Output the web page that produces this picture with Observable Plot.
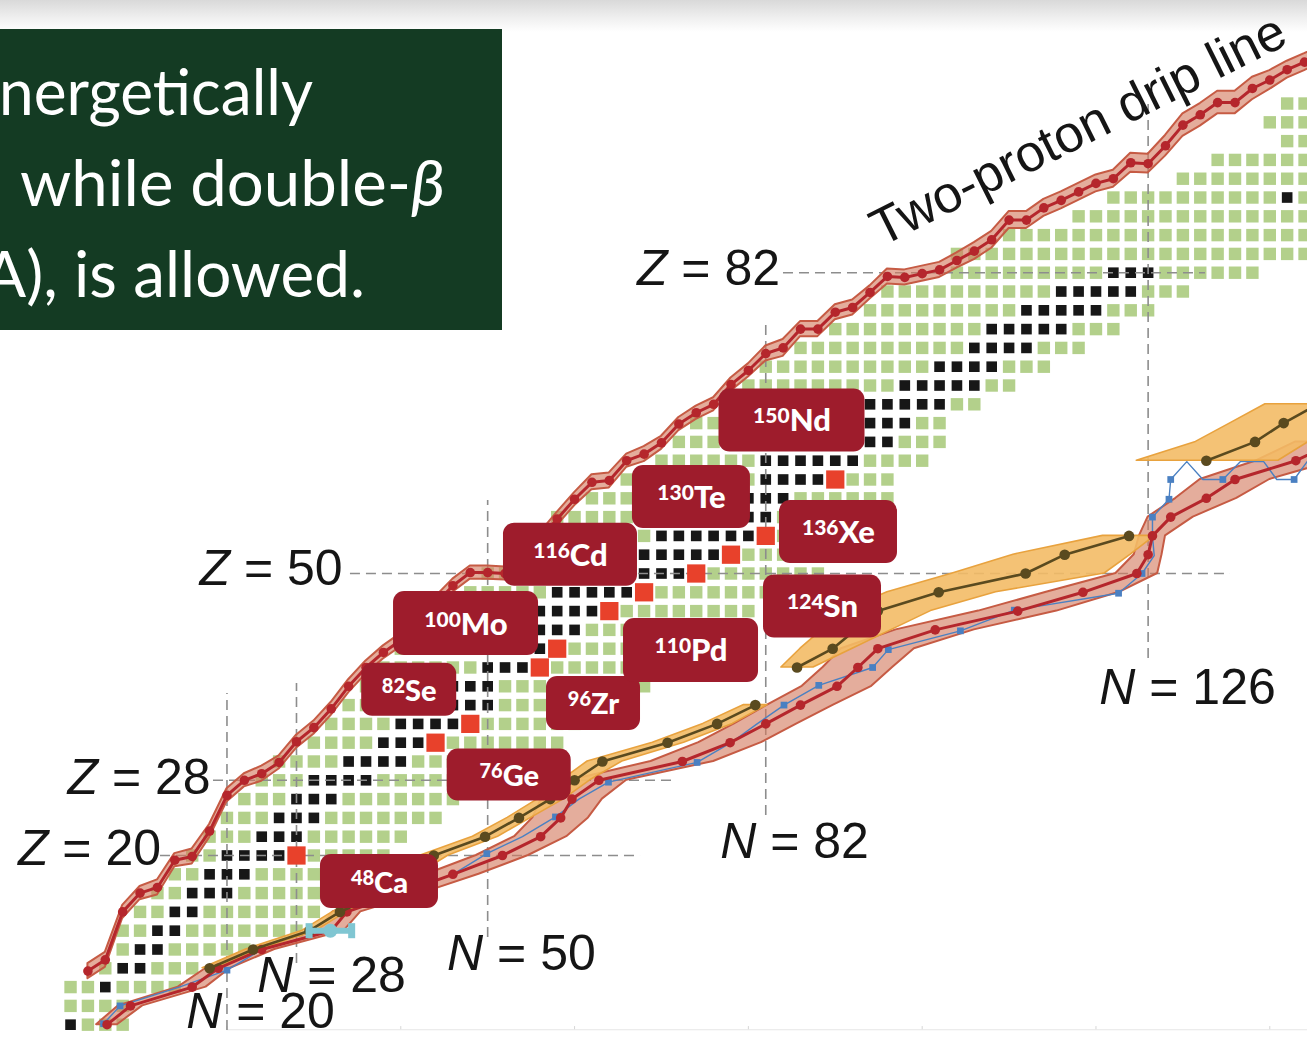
<!DOCTYPE html>
<html>
<head>
<meta charset="utf-8">
<script src="https://cdn.jsdelivr.net/npm/d3@7"></script>
<script src="https://cdn.jsdelivr.net/npm/@observablehq/plot@0.6"></script>
<style>
  html, body { margin: 0; padding: 0; background: #fff; overflow: hidden; }
  #wrap { position: relative; width: 1307px; height: 1038px; overflow: hidden; background: #fff; }
  #shade { position: absolute; left: 0; top: 0; width: 1307px; height: 32px;
           background: linear-gradient(to bottom, #d9d9d9 0%, #efefef 55%, #ffffff 100%); }
  #chart { position: absolute; left: 0; top: 0; }
  #note { position: absolute; left: 0; top: 29px; width: 502px; height: 301px; background: #143b23; overflow: hidden; }
</style>
</head>
<body>
<div id="wrap">
  <div id="shade"></div>
  <div id="chart"></div>
  <div id="note">
    <svg width="502" height="301">
      <g fill="#ffffff" font-family="Lato, 'Open Sans', sans-serif" font-size="63">
        <text x="-1" y="86" textLength="314" lengthAdjust="spacingAndGlyphs">nergetically</text>
        <text x="20" y="177" textLength="425" lengthAdjust="spacingAndGlyphs">while double-<tspan font-style="italic">β</tspan></text>
        <text x="-17" y="268" textLength="382" lengthAdjust="spacingAndGlyphs">A), is allowed.</text>
      </g>
    </svg>
  </div>
</div>
<script>
// ======================= DATA =======================
// Even-even nuclei shown (green): per even Z, first and last even N
const rowZ    = [2,4,6,8,10,12,14,16,18,20,22,24,26,28,30,32,34,36,38,40,42,44,46,48,50,52,54,56,58,60,62,64,66,68,70,72,74,76,78,80,82,84,86,88,90,92,94,96,98,100];
const rowNmin = [2,2,2,6,8,8,10,12,14,16,18,20,22,24,26,30,32,34,36,38,40,42,44,48,50,54,56,58,62,66,70,72,74,78,80,82,86,90,94,96,104,104,110,118,122,130,134,142,140,142];
const rowNmax = [8,8,14,16,22,28,30,32,34,38,40,44,46,48,52,58,60,62,68,70,72,76,80,84,88,86,90,94,96,96,100,102,102,106,110,114,118,122,126,130,138,144,144,144,144,144,144,144,144,144];

// Stable (black) even-even nuclei: Z and their N values
const stableZ = [2,6,8,10,12,14,16,18,20,22,24,26,28,30,32,34,36,38,40,42,44,46,48,50,52,54,56,58,60,62,64,66,68,70,72,74,76,78,80,82,90];
const stableN = [[2],[6],[8,10],[10,12],[12,14],[14,16],[16,18,20],[18,20,22],[20,22,24,26],[24,26,28],[26,28,30],[28,30,32],
  [30,32,34,36],[34,36,38,40],[38,40,42],[40,42,44,46],[42,44,46,48,50],[46,48,50],[50,52,54],[50,52,54,56],[52,54,56,58,60],
  [56,58,60,62],[58,60,62,64,66],[62,64,66,68,70,72],[68,70,72,74,76],[70,72,74,76,78,80],[74,76,78,80,82],[78,80,82,84],
  [82,84,86,88],[82,84,86,88,90,92],[88,90,92,94,96],[90,92,94,96,98],[94,96,98,100,102],[98,100,102,104,106],[102,104,106,108],
  [106,108,110,112],[108,110,112,114,116],[112,114,116,118,120],[116,118,120,122,124],[122,124,126],[142]];

// Double-beta decay candidates (red squares + labels)
const bbZ    = [20,32,34,40,42,46,48,50,52,54,60];
const bbN    = [28,44,48,56,58,64,68,74,78,82,90];
const bbMass = [48,76,82,96,100,110,116,124,130,136,150];
const bbSym  = ["Ca","Ge","Se","Zr","Mo","Pd","Cd","Sn","Te","Xe","Nd"];

// Two-proton drip line (per even N: Z and band half-width)
const pN  = [4,6,8,10,12,14,16,18,20,22,24,26,28,30,32,34,36,38,40,42,44,46,48,50,52,54,56,58,60,62,64,66,68,70,72,74,76,78,80,82,84,86,88,90,92,94,96,98,100,102,104,106,108,110,112,114,116,118,120,122,124,126,128,130,132,134,136,138,140,142,144,146];
const pZ  = [7.7,8.9,14.0,16.0,16.6,19.5,19.9,22.6,26.4,28.0,28.7,29.9,32.1,33.6,35.6,38.0,40.0,41.6,42.9,44.6,46.8,48.7,50.1,50.1,50.0,51.6,53.6,55.8,57.9,59.7,59.9,62.0,62.7,63.9,65.9,67.1,68.0,70.1,71.6,73.4,74.0,76.0,76.0,77.8,78.3,79.9,81.6,81.5,81.9,82.3,83.3,84.3,85.5,87.6,87.6,88.9,89.7,90.6,91.5,92.0,93.7,93.6,95.5,97.7,98.8,100.1,100.1,101.6,102.5,103.6,104.4,105.3];
const pHw = [0.8,0.8,0.7,0.7,0.8,0.7,0.8,0.7,0.7,0.7,0.8,0.7,0.7,0.7,0.7,0.7,0.7,0.7,0.7,0.7,0.7,0.7,0.7,0.7,0.7,0.7,0.7,0.7,0.7,0.8,0.8,0.7,0.8,0.7,0.7,0.7,0.7,0.7,0.7,0.8,0.9,0.8,0.8,0.8,0.8,0.7,0.8,0.8,0.8,0.8,0.8,0.9,0.9,0.9,0.9,0.9,0.9,0.9,0.9,0.9,1.0,1.0,1.1,1.2,1.2,1.2,1.2,1.2,1.0,0.9,0.9,0.9];

// Two-neutron drip line (per even Z: N and band half-width in N)
const nZ  = [2,4,6,8,10,12,14,16,18,20,22,24,26,28,30,32,34,36,38,40,42,44,46,48,50,52,54,56,58,60,62,64];
const nN  = [6.2,8.9,16.0,19.0,24.0,32.0,33.8,40.0,46.0,51.7,56.1,58.4,59.7,62.8,72.4,77.9,82.0,86.0,90.2,92.6,94.9,101.5,111.0,118.5,124.7,126.0,126.5,128.6,132.7,136.0,143.0,147.5];
const nHw = [1.2,1.4,1.6,1.4,1.5,1.5,1.6,2.5,3.0,3.0,3.0,3.2,3.5,3.2,3.6,3.6,3.6,3.8,4.0,4.0,4.2,4.5,4.5,4.2,2.4,1.6,1.5,2.6,3.5,4.0,4.5,4.5];

// Blue model line (path vertices) and its square markers
const blueN = [5.8,7.7,14.5,20.0,24.0,32.0,33.8,40.0,46.0,49.9,54.0,57.8,60.5,63.9,74.1,78.0,81.0,84.1,88.1,94.3,96.1,104.4,110.6,122.6,125.3,126.7,126.5,126.5,128.4,128.6,130.45,132.3,134.6,136.6,139.3,140.8,142.8,144.3,146.5];
const blueZ = [2.1,4.0,6.0,7.8,10.0,12.0,14.0,16.0,18.0,20.2,22.0,24.1,26.0,27.8,29.9,32.0,34.0,36.0,38.1,40.0,41.9,43.9,46.1,47.9,50.0,51.9,54.0,56.0,57.9,60.0,61.9,60.0,60.0,61.9,61.9,60.0,60.0,61.9,61.9];
const blueMarkN = [5.8,7.7,20.0,49.9,57.8,63.9,74.1,84.1,88.1,94.3,96.1,104.4,110.6,122.6,125.3,126.5,126.5,128.4,128.6,134.6,142.8];
const blueMarkZ = [2.1,4.0,7.8,20.2,24.1,27.8,29.9,36.0,38.1,40.0,41.9,43.9,46.1,47.9,50.0,54.0,56.0,57.9,60.0,60.0,60.0];

// Brown line with orange band (per even Z; null = gap)
const brZ  = [8,10,12,14,16,18,20,22,24,26,28,30,32,34,36,38,40,42,44,46,48,50,52,54,56,58,60,62,64,66,68];
const brN  = [18.0,23.0,29.5,33.0,38.0,41.0,43.8,49.7,53.6,57.2,60.0,63.2,70.7,76.4,80.8,null,85.6,89.7,92.3,94.9,101.9,111.9,116.4,123.8,null,null,null,132.7,138.3,141.6,145.5];
const brLo = [17.2,22.2,28.7,32.2,37.0,40.0,42.3,48.3,52.3,55.8,58.5,61.5,69.0,74.8,79.5,null,83.8,86.0,88.5,91.0,96.0,103.5,110.5,120.8,null,null,null,124.7,131.5,135.5,139.5];
const brHi = [18.8,23.8,30.3,33.8,39.0,42.0,45.5,51.2,55.0,58.8,61.8,65.5,72.6,78.2,82.2,null,87.5,92.0,96.5,101.0,108.5,121.0,124.0,126.8,null,null,null,141.0,144.5,148.0,151.0];

// Cyan point with horizontal error bar
const cyanN = [31.9], cyanZ = [12.0], cyanErr = [2.45];

// Magic numbers (dashed guide lines)
const magicZ     = [20, 28, 50, 82];
const magicZFrom = [12.35, 18.45, 34.21, 84.04];
const magicZTo   = [67.59, 71.84, 135.48, 132.6];
const magicN     = [20, 28, 50, 82, 126];
const magicNFrom = [1.38, 8.51, 11.28, 24.25, 40.96];
const magicNTo   = [37.23, 38.30, 57.77, 76.92, 100.32];

const axisTicks = [20, 40, 60, 80, 100, 120, 140];

// ======================= LAYOUT =======================
const W = 1307, H = 1038;
const xDomain = [-6.06, 144.34], yDomain = [0.53, 110.96];
const PXN = W / (xDomain[1] - xDomain[0]);
const PXZ = H / (yDomain[1] - yDomain[0]);

// label box centres (data units) and box sizes (px)
const labelLayout = {
  Ca: {N: 37.55, Z: 17.23, w: 118, h: 54, fs: 29, ms: 20},
  Ge: {N: 52.48, Z: 28.56, w: 124, h: 52, fs: 29, ms: 20},
  Se: {N: 40.97, Z: 37.63, w: 95,  h: 53, fs: 29, ms: 20},
  Zr: {N: 62.18, Z: 36.17, w: 94,  h: 54, fs: 29, ms: 20},
  Mo: {N: 47.51, Z: 44.68, w: 145, h: 64, fs: 31, ms: 21},
  Pd: {N: 73.40, Z: 41.81, w: 135, h: 64, fs: 31, ms: 21},
  Cd: {N: 59.53, Z: 51.99, w: 134, h: 63, fs: 31, ms: 21},
  Sn: {N: 88.53, Z: 46.49, w: 118, h: 63, fs: 31, ms: 21},
  Te: {N: 73.45, Z: 58.14, w: 118, h: 63, fs: 31, ms: 21},
  Xe: {N: 90.37, Z: 54.41, w: 118, h: 63, fs: 31, ms: 21},
  Nd: {N: 85.02, Z: 66.28, w: 146, h: 63, fs: 31, ms: 21}
};
const magicLabelPos = {
  Z20: [4.18, 20.74], Z28: [9.88, 28.24], Z50: [25.07, 50.53], Z82: [75.41, 82.40],
  N20: [23.86, 3.40], N28: [32.03, 7.23], N50: [53.89, 9.52], N82: [85.31, 21.43], N126: [130.53, 37.77]
};
const dripLabelPos = [117.97, 97.16];

// ======================= TABLES =======================
const key = (z, n) => z + ":" + n;
const stableSet = new Set();
stableZ.forEach((z, i) => stableN[i].forEach(n => stableSet.add(key(z, n))));
const bbSet = new Set(bbZ.map((z, i) => key(z, bbN[i])));
const known = [], stable = [];
rowZ.forEach((z, i) => {
  for (let n = rowNmin[i]; n <= rowNmax[i]; n += 2) {
    const k = key(z, n);
    if (bbSet.has(k)) continue;
    (stableSet.has(k) ? stable : known).push({N: n, Z: z});
  }
});
const bb = bbZ.map((z, i) => ({Z: z, N: bbN[i], mass: bbMass[i], sym: bbSym[i]}));
const labels = bb.map(d => ({...d, ...labelLayout[d.sym]}));

const pRows  = pN.map((n, i) => ({N: n, Z: pZ[i], lo: pZ[i] - pHw[i], hi: pZ[i] + pHw[i]}));
const nRows  = nZ.map((z, i) => ({Z: z, N: nN[i], lo: nN[i] - nHw[i], hi: nN[i] + nHw[i]}));
const brRows = brZ.map((z, i) => ({Z: z, N: brN[i], lo: brLo[i], hi: brHi[i]}));
const blueRows = blueN.map((n, i) => ({N: n, Z: blueZ[i]}));
const blueMarks = blueMarkN.map((n, i) => ({N: n, Z: blueMarkZ[i]}));
const cyan = cyanN.map((n, i) => ({N: n, Z: cyanZ[i], e: cyanErr[i]}));
const cyanCaps = cyan.flatMap(d => [{N: d.N - d.e, Z: d.Z}, {N: d.N + d.e, Z: d.Z}]);

const zLines = magicZ.map((z, i) => ({Z: z, from: magicZFrom[i], to: magicZTo[i]}));
const nLines = magicN.map((n, i) => ({N: n, from: magicNFrom[i], to: magicNTo[i]}));
const magicLabels = [
  ...magicZ.map(z => ({t: `Z = ${z}`, N: magicLabelPos["Z" + z][0], Z: magicLabelPos["Z" + z][1]})),
  ...magicN.map(n => ({t: `N = ${n}`, N: magicLabelPos["N" + n][0], Z: magicLabelPos["N" + n][1]}))
];

// ======================= COLOURS =======================
const GREEN = "#b3d08b", BLACK = "#171717", BBRED = "#e8412b", LABEL = "#9e1c2c";
const DRIP = "#b5262c", BANDF = "#d47a60", BANDS = "#c65b44";
const ORANGEF = "#f3bb66", ORANGES = "#e8a23e", BROWN = "#5a4a1f", BLUE = "#4a80c2", CYAN = "#80c6d2";
const DASH = "#8d8d8d";
const TEXTFONT = "'Liberation Sans', Arial, Helvetica, sans-serif";

// ======================= PLOT =======================
const plot = Plot.plot({
  width: W, height: H, margin: 0,
  style: {background: "transparent"},
  x: {domain: xDomain, axis: null},
  y: {domain: yDomain, axis: null},
  marks: [
    // faint bottom axis
    Plot.ruleY([1.46], {x1: 20, x2: 150, stroke: "#e6e6e6", strokeWidth: 1}),
    Plot.ruleX(axisTicks, {y1: 1.46, y2: 1.8, stroke: "#d6d6d6", strokeWidth: 1}),
    // nuclei
    Plot.dot(known,  {x: "N", y: "Z", symbol: "square", r: 7.0, fill: GREEN}),
    Plot.dot(stable, {x: "N", y: "Z", symbol: "square", r: 6.0, fill: BLACK}),
    // magic number guides
    Plot.ruleY(zLines, {y: "Z", x1: "from", x2: "to", stroke: DASH, strokeWidth: 1.6, strokeDasharray: "10,6"}),
    Plot.ruleX(nLines, {x: "N", y1: "from", y2: "to", stroke: DASH, strokeWidth: 1.6, strokeDasharray: "10,6"}),
    // double-beta candidates
    Plot.dot(bb, {x: "N", y: "Z", symbol: "square", r: 10.3, fill: BBRED}),
    // bands
    Plot.areaX(nRows, {y: "Z", x1: "lo", x2: "hi", fill: BANDF, fillOpacity: 0.62, stroke: BANDS, strokeWidth: 2}),
    Plot.areaX(brRows, {y: "Z", x1: "lo", x2: "hi", fill: ORANGEF, fillOpacity: 0.9, stroke: ORANGES, strokeWidth: 1.6}),
    Plot.areaY(pRows, {x: "N", y1: "lo", y2: "hi", fill: BANDF, fillOpacity: 0.62, stroke: BANDS, strokeWidth: 2}),
    // lines
    Plot.line(blueRows, {x: "N", y: "Z", stroke: BLUE, strokeWidth: 1.4}),
    Plot.dot(blueMarks, {x: "N", y: "Z", symbol: "square", r: 3.8, fill: BLUE}),
    Plot.line(nRows, {x: "N", y: "Z", stroke: DRIP, strokeWidth: 3}),
    Plot.dot(nRows, {x: "N", y: "Z", r: 4.8, fill: DRIP}),
    Plot.line(pRows, {x: "N", y: "Z", stroke: DRIP, strokeWidth: 3}),
    Plot.dot(pRows, {x: "N", y: "Z", r: 4.8, fill: DRIP}),
    Plot.line(brRows, {x: "N", y: "Z", stroke: BROWN, strokeWidth: 2.6}),
    Plot.dot(brRows.filter(d => d.N != null), {x: "N", y: "Z", r: 5.3, fill: BROWN}),
    // cyan marker
    Plot.link(cyan, {x1: d => d.N - d.e, x2: d => d.N + d.e, y1: "Z", y2: "Z", stroke: CYAN, strokeWidth: 6}),
    Plot.link(cyanCaps, {x1: "N", x2: "N", y1: d => d.Z - 0.8, y2: d => d.Z + 0.8, stroke: CYAN, strokeWidth: 7}),
    Plot.dot(cyan, {x: "N", y: "Z", r: 7, fill: CYAN}),
    // isotope labels
    Plot.rect(labels, {
      x1: d => d.N - d.w / 2 / PXN, x2: d => d.N + d.w / 2 / PXN,
      y1: d => d.Z - d.h / 2 / PXZ, y2: d => d.Z + d.h / 2 / PXZ,
      fill: LABEL, rx: 11
    }),
    Plot.text(labels, {x: "N", y: "Z", text: d => d.mass + d.sym, fill: "white",
      fontFamily: "Lato, 'Open Sans', sans-serif", fontWeight: 900, fontSize: 31, lineAnchor: "bottom", dy: 11}),
    // magic labels
    Plot.text(magicLabels, {x: "N", y: "Z", text: "t", fill: "#151515", fontFamily: TEXTFONT, fontSize: 50}),
    // drip line label
    Plot.text([{N: dripLabelPos[0], Z: dripLabelPos[1], t: "Two-proton drip line"}],
      {x: "N", y: "Z", text: "t", rotate: -26.5, fill: "#151515", fontFamily: TEXTFONT, fontSize: 52})
  ]
});
document.getElementById("chart").append(plot);

// ---- rich text: italic N/Z and superscript mass numbers ----
const NS = "http://www.w3.org/2000/svg";
const mk = (s) => { const t = document.createElementNS(NS, "tspan"); t.textContent = s; return t; };
const bySym = Object.fromEntries(labels.map(d => [d.sym, d]));
plot.querySelectorAll("text").forEach(t => {
  const s = t.textContent;
  let m;
  if ((m = s.match(/^([ZN])( = \d+)$/))) {
    t.textContent = "";
    const a = mk(m[1]); a.setAttribute("font-style", "italic");
    t.append(a, mk(m[2]));
  } else if ((m = s.match(/^(\d+)([A-Z][a-z])$/)) && bySym[m[2]]) {
    const L = bySym[m[2]];
    t.textContent = "";
    const a = mk(m[1]); a.setAttribute("font-size", L.ms); a.setAttribute("dy", "-8");
    const b = mk(m[2]); b.setAttribute("font-size", L.fs); b.setAttribute("dy", "8");
    t.append(a, b);
  }
});
</script>
</body>
</html>
